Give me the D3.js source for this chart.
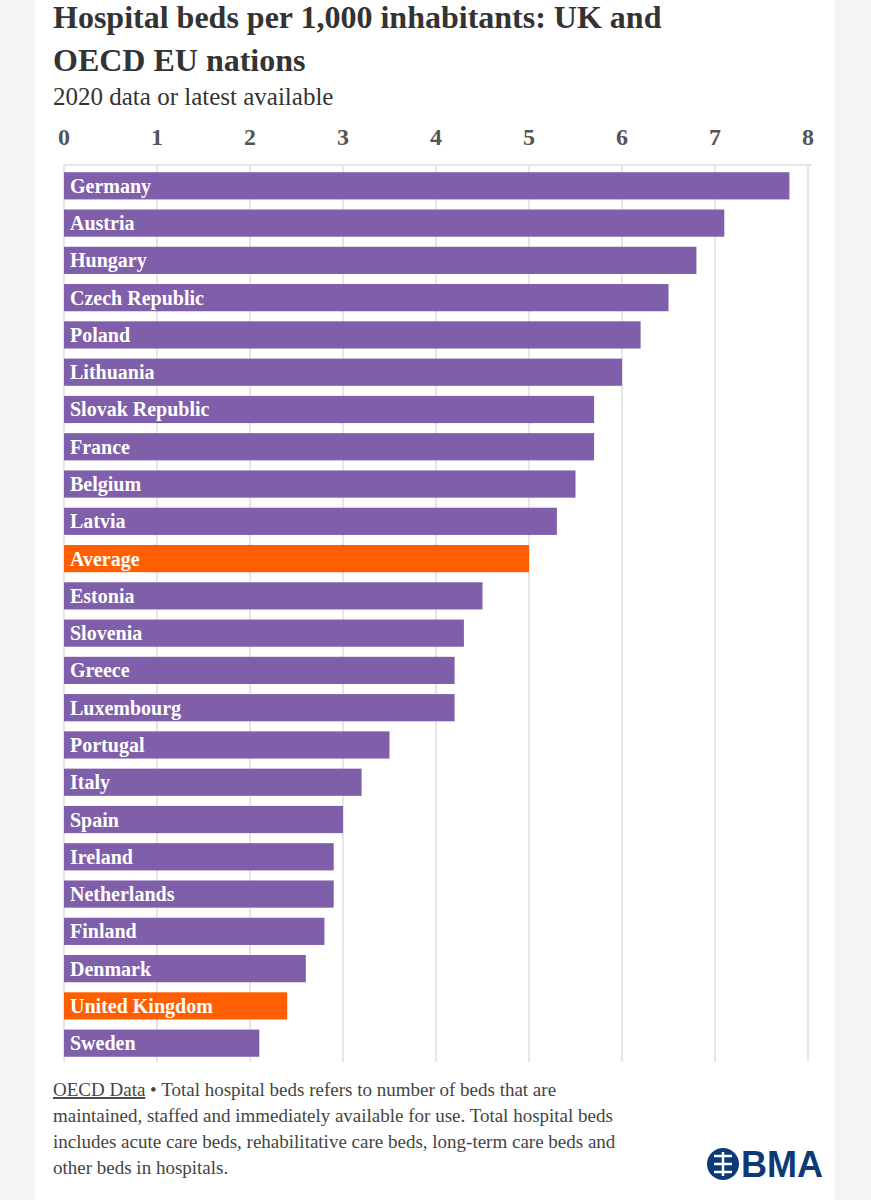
<!DOCTYPE html><html><head><meta charset="utf-8">
<script src="https://cdn.jsdelivr.net/npm/d3@7"></script>
<style>body{margin:0;background:#f4f4f4}</style></head><body>
<svg id="c" width="871" height="1200"></svg>
<script>
const countries=["Germany","Austria","Hungary","Czech Republic","Poland","Lithuania","Slovak Republic","France","Belgium","Latvia","Average","Estonia","Slovenia","Greece","Luxembourg","Portugal","Italy","Spain","Ireland","Netherlands","Finland","Denmark","United Kingdom","Sweden"];
const beds=[7.8,7.1,6.8,6.5,6.2,6.0,5.7,5.7,5.5,5.3,5.0,4.5,4.3,4.2,4.2,3.5,3.2,3.0,2.9,2.9,2.8,2.6,2.4,2.1];
const highlight=["Average","United Kingdom"];
const ticks=[0,1,2,3,4,5,6,7,8];
const svg=d3.select("#c");
svg.append("rect").attr("x",35).attr("y",0).attr("width",800).attr("height",1200).attr("fill","#fff");
const serif="'Liberation Serif','Times New Roman',serif";
svg.append("text").attr("x",53).attr("y",28).text("Hospital beds per 1,000 inhabitants: UK and").attr("font-family",serif).attr("font-weight","bold").attr("font-size",32).attr("fill","#333");
svg.append("text").attr("x",53).attr("y",71).text("OECD EU nations").attr("font-family",serif).attr("font-weight","bold").attr("font-size",32).attr("fill","#333");
svg.append("text").attr("x",53).attr("y",105).text("2020 data or latest available").attr("font-family",serif).attr("font-size",25).attr("fill","#333");
const x=d3.scaleLinear().domain([0,8]).range([64,808]);
const y=d3.scaleBand().domain(countries).range([167,1062]).paddingInner(0.27).paddingOuter(0.14);
svg.append("line").attr("x1",64).attr("x2",812).attr("y1",165).attr("y2",165).attr("stroke","#e6e6e6").attr("stroke-width",2);
svg.selectAll(".g").data(ticks).join("line").attr("x1",d=>x(d)).attr("x2",d=>x(d)).attr("y1",165).attr("y2",1062).attr("stroke","#e6e6e6").attr("stroke-width",2);
svg.selectAll(".t").data(ticks).join("text").attr("x",d=>x(d)).attr("y",145).attr("text-anchor","middle").text(d=>d).attr("font-family",serif).attr("font-weight","bold").attr("font-size",24).attr("fill","#555");
svg.selectAll(".b").data(countries).join("rect").attr("x",x(0)).attr("y",d=>y(d)).attr("height",y.bandwidth()).attr("width",(d,i)=>x(beds[i])-x(0)).attr("fill",d=>highlight.includes(d)?"#ff5f00":"#7f5fa9");
svg.selectAll(".l").data(countries).join("text").attr("x",x(0)+6).attr("y",d=>y(d)+y.bandwidth()/2+7).text(d=>d).attr("font-family",serif).attr("font-weight","bold").attr("font-size",20).attr("fill","#fff");
const foot=["• Total hospital beds refers to number of beds that are","maintained, staffed and immediately available for use. Total hospital beds","includes acute care beds, rehabilitative care beds, long-term care beds and","other beds in hospitals."];
const ft=svg.append("text").attr("font-family",serif).attr("font-size",19).attr("fill","#444");
ft.append("tspan").attr("x",53).attr("y",1096).attr("text-decoration","underline").text("OECD Data");
ft.append("tspan").text(" "+foot[0]);
foot.slice(1).forEach((t,i)=>ft.append("tspan").attr("x",53).attr("y",1122+i*26).text(t));
const navy="#0c3a78";
svg.append("circle").attr("cx",723).attr("cy",1164).attr("r",16).attr("fill",navy);
svg.append("path").attr("d","M714,1156 h18 M714,1164 h18 M714,1172 h18 M723,1152 v24").attr("stroke","#fff").attr("stroke-width",2.5).attr("fill","none");
svg.append("text").attr("x",741).attr("y",1177).text("BMA").attr("font-family","'Liberation Sans',Arial,sans-serif").attr("font-weight","bold").attr("font-size",36).attr("fill",navy);
</script></body></html>
